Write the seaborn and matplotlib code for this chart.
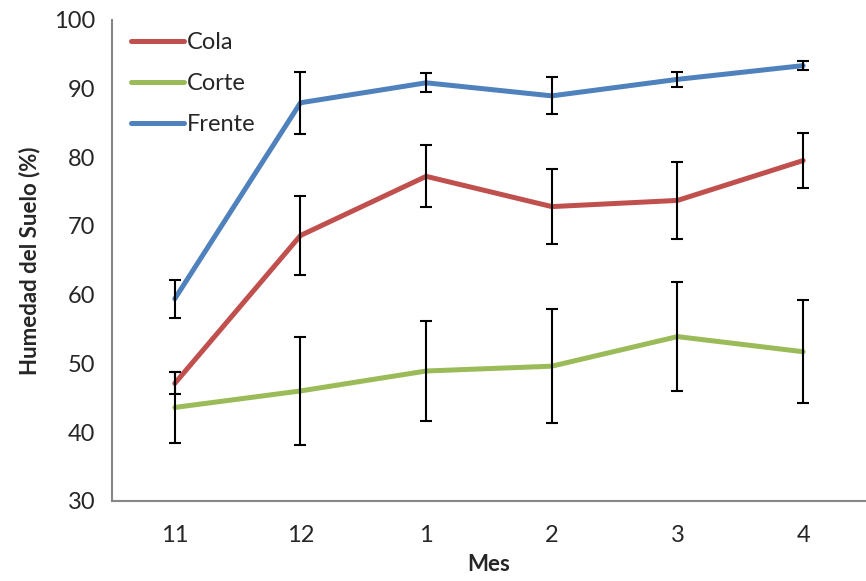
import matplotlib
matplotlib.use("Agg")
import matplotlib.pyplot as plt
import numpy as np
import pandas as pd
import seaborn as sns

# Monthly soil moisture (%) with standard deviations per plot position
meses = ["11", "12", "1", "2", "3", "4"]
cola = [47.1, 68.6, 77.2, 72.8, 73.7, 79.5]
cola_err = [1.6, 5.8, 4.5, 5.5, 5.6, 4.0]
corte = [43.6, 46.0, 48.9, 49.6, 53.9, 51.7]
corte_err = [5.2, 7.8, 7.3, 8.3, 7.9, 7.5]
frente = [59.4, 87.9, 90.8, 88.9, 91.3, 93.3]
frente_err = [2.8, 4.5, 1.4, 2.7, 1.1, 0.7]

series = {"Cola": (cola, cola_err), "Corte": (corte, corte_err), "Frente": (frente, frente_err)}
colores = {"Cola": "#C0504D", "Corte": "#9BBB59", "Frente": "#4F81BD"}

rows = []
for nombre, (vals, errs) in series.items():
    for i, (m, v, e) in enumerate(zip(meses, vals, errs)):
        rows.append({"pos": i, "Mes": m, "Serie": nombre, "Humedad": v, "err": e})
df = pd.DataFrame(rows)

sns.set_style("white")
plt.rcParams["font.family"] = ["Lato", "DejaVu Sans"]

fig = plt.figure(figsize=(8.66, 5.81), dpi=100)
ax = fig.add_axes([0.1293, 0.1377, 0.8707, 0.8287])

sns.lineplot(data=df, x="pos", y="Humedad", hue="Serie", palette=colores,
             linewidth=3.6, ax=ax, zorder=2, estimator=None, sort=False)

for nombre in series:
    sub = df[df["Serie"] == nombre]
    ax.errorbar(sub["pos"], sub["Humedad"], yerr=sub["err"], fmt="none",
                ecolor="black", elinewidth=1.5, capsize=4, capthick=1.5, zorder=3)

ax.set_xlim(-0.5, 5.5)
ax.set_ylim(30, 100)
ax.set_yticks(np.arange(30, 101, 10))
ax.set_xticks(np.arange(-0.5, 5.6, 1.0))
ax.set_xticklabels([])
ax.set_xticks(np.arange(0, 6), minor=True)
ax.set_xticklabels(meses, minor=True)
ax.tick_params(axis="x", which="minor", length=0, pad=17, labelsize=17)
ax.tick_params(axis="x", which="major", length=7, width=1.3, color="#868686", direction="out")
ax.tick_params(axis="y", length=7, width=1.3, color="#868686", direction="out", labelsize=17, pad=5)

for s in ["top", "right"]:
    ax.spines[s].set_visible(False)
for s in ["left", "bottom"]:
    ax.spines[s].set_color("#868686")
    ax.spines[s].set_linewidth(1.5)

ax.set_xlabel("Mes", fontsize=16, fontweight="bold", labelpad=6)
ax.set_ylabel("Humedad del Suelo (%)", fontsize=16, fontweight="bold", labelpad=10)

leg = ax.legend(loc="upper left", bbox_to_anchor=(-0.003, 1.018), frameon=False,
                fontsize=17, handlelength=2.25, handletextpad=0.12, labelspacing=0.85)
for h in leg.get_lines():
    h.set_linewidth(3.6)

fig.savefig("out.png", dpi=100)
